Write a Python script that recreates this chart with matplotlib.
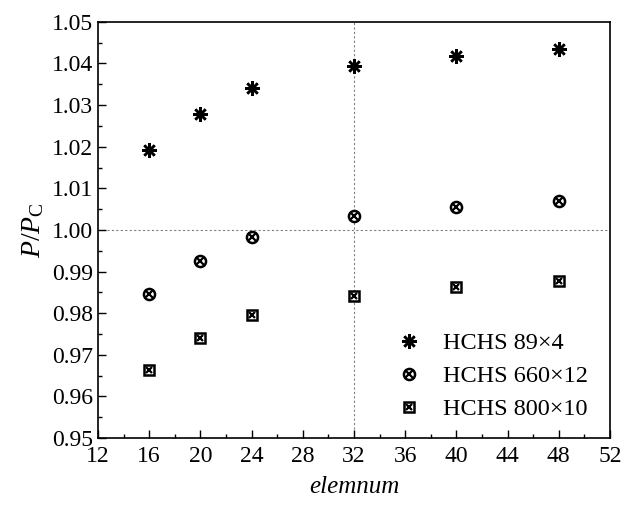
import matplotlib
matplotlib.use("Agg")
import matplotlib.pyplot as plt
from matplotlib.ticker import MultipleLocator

plt.rcParams["font.family"] = ["Liberation Serif", "DejaVu Serif"]
plt.rcParams["mathtext.fontset"] = "custom"
plt.rcParams["mathtext.it"] = "Liberation Serif:italic"
plt.rcParams["mathtext.rm"] = "Liberation Serif"

# data
elemnum = [16, 20, 24, 32, 40, 48]
hchs_89 = [1.0193, 1.0279, 1.0342, 1.0394, 1.0418, 1.0435]
hchs_660 = [0.9845, 0.9925, 0.9982, 1.0033, 1.0054, 1.0069]
hchs_800 = [0.9663, 0.9740, 0.9795, 0.9842, 0.9863, 0.9877]
labels = ["HCHS 89\u00d74", "HCHS 660\u00d712", "HCHS 800\u00d710"]

fig = plt.figure(figsize=(6.24, 5.05), dpi=100)
ax = fig.add_axes([0.157, 0.1327, 0.8205, 0.824])

# reference lines
ax.axhline(1.0, color="gray", ls=(0, (2, 2)), lw=0.8, zorder=0)
ax.axvline(32, color="gray", ls=(0, (2, 2)), lw=0.8, zorder=0)

h1, = ax.plot(elemnum, hchs_89, ls="none", marker=(8, 2, 0), ms=10.5,
              mec="black", mew=1.8)
c_o, = ax.plot(elemnum, hchs_660, ls="none", marker="o", ms=8,
               mfc="white", mec="black", mew=1.8)
c_x, = ax.plot(elemnum, hchs_660, ls="none", marker="x", ms=5.5,
               mec="black", mew=1.6)
s_o, = ax.plot(elemnum, hchs_800, ls="none", marker="s", ms=7,
               mfc="white", mec="black", mew=1.8)
s_x, = ax.plot(elemnum, hchs_800, ls="none", marker="x", ms=4.5,
               mec="black", mew=1.6)

ax.legend([h1, (c_o, c_x), (s_o, s_x)], labels, loc="lower right",
          bbox_to_anchor=(1.0, -0.01), frameon=False, fontsize=17.5,
          handletextpad=0.4, labelspacing=0.45)

ax.set_xlim(12, 52)
ax.set_ylim(0.95, 1.05)
ax.xaxis.set_major_locator(MultipleLocator(4))
ax.xaxis.set_minor_locator(MultipleLocator(2))
ax.yaxis.set_major_locator(MultipleLocator(0.01))
ax.yaxis.set_minor_locator(MultipleLocator(0.005))
ax.yaxis.set_major_formatter(lambda v, p: f"{v:.2f}")
ax.tick_params(which="both", direction="in", labelsize=17)
ax.tick_params(which="major", length=6, width=1)
ax.tick_params(which="minor", length=3, width=1)
ax.tick_params(axis="x", pad=6)
for sp in ax.spines.values():
    sp.set_linewidth(1.2)

ax.set_xlabel("elemnum", fontsize=18, style="italic", labelpad=6)
ax.set_ylabel(r"$P/P_\mathrm{C}$", fontsize=20, labelpad=4)

fig.savefig("out.png", dpi=100)
